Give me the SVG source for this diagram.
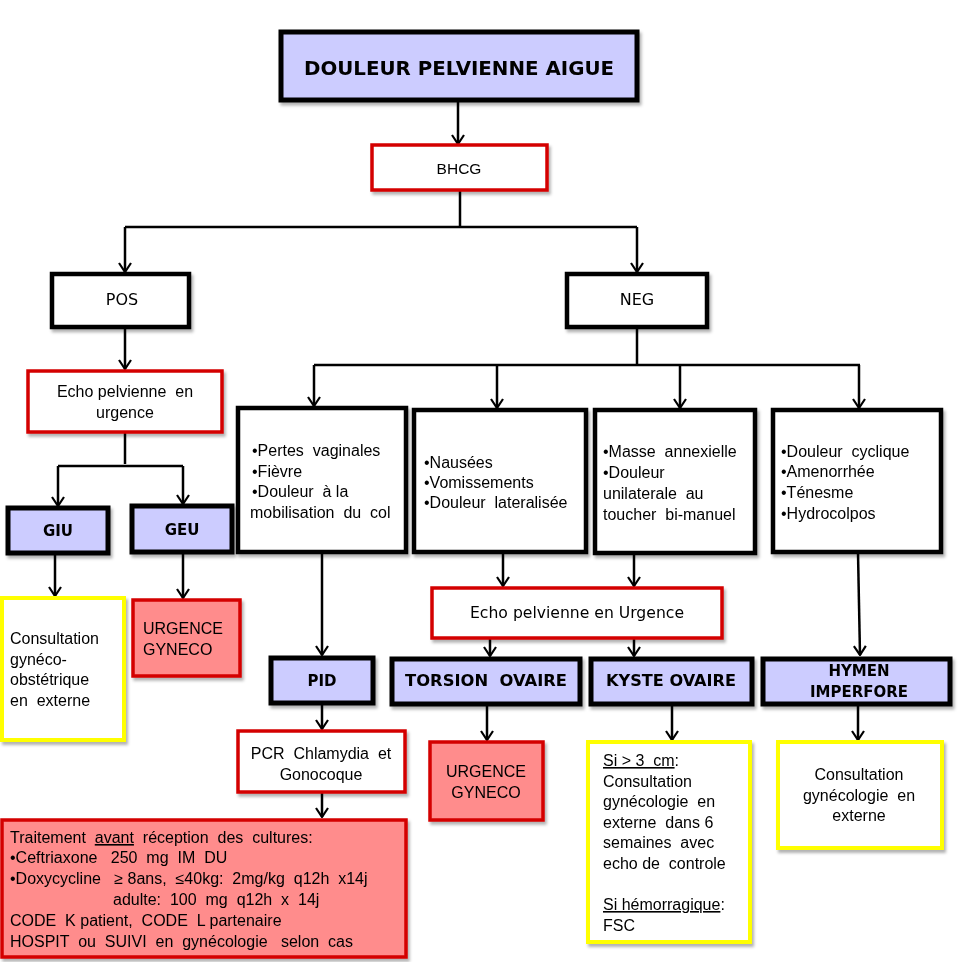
<svg xmlns="http://www.w3.org/2000/svg" width="960" height="962" viewBox="0 0 960 962">
<defs>
  <filter id="sh" x="-10%" y="-10%" width="130%" height="140%">
    <feDropShadow dx="2" dy="3" stdDeviation="1.5" flood-color="#000" flood-opacity="0.3"/>
  </filter>
  <marker id="ar" viewBox="-1 -7 11 14" refX="9" refY="0" markerWidth="11" markerHeight="14" markerUnits="userSpaceOnUse" orient="auto">
    <path d="M0,-6 L9,0 L0,6" fill="none" stroke="#000" stroke-width="2.2"/>
  </marker>
  <style>
    .blk{fill:#fff;stroke:#000;stroke-width:4.5}
    .pur{fill:#ccccff;stroke:#000;stroke-width:5}
    .red{fill:#fff;stroke:#d40000;stroke-width:3.5}
    .sal{fill:#ff8c8c;stroke:#d40000;stroke-width:3.5}
    .yel{fill:#fff;stroke:#ffff00;stroke-width:4}
    .t{font-family:"Liberation Sans",Arial,sans-serif;font-size:16px;fill:#000}
    .c{font-family:"DejaVu Sans",sans-serif;font-size:16px;fill:#000}
    .cb{font-family:"DejaVu Sans",sans-serif;font-size:15px;font-weight:bold;fill:#000}
    .m{text-anchor:middle}
    .ln{fill:none;stroke:#000;stroke-width:2.5}
    .u{text-decoration:underline}
  </style>
</defs>
<rect width="960" height="962" fill="#fff"/>

<g id="connectors">
  <path class="ln" d="M458,100 V144" marker-end="url(#ar)"/>
  <path class="ln" d="M460,191 V227"/>
  <path class="ln" d="M125,227 H637"/>
  <path class="ln" d="M125,227 V272" marker-end="url(#ar)"/>
  <path class="ln" d="M637,227 V272" marker-end="url(#ar)"/>
  <path class="ln" d="M125,328 V369" marker-end="url(#ar)"/>
  <path class="ln" d="M125,433 V464"/>
  <path class="ln" d="M58,466 H183"/>
  <path class="ln" d="M58,466 V506" marker-end="url(#ar)"/>
  <path class="ln" d="M183,466 V504" marker-end="url(#ar)"/>
  <path class="ln" d="M55,554 V596" marker-end="url(#ar)"/>
  <path class="ln" d="M183,553 V598" marker-end="url(#ar)"/>
  <path class="ln" d="M637,328 V364"/>
  <path class="ln" d="M314,365 H860"/>
  <path class="ln" d="M314,365 V406" marker-end="url(#ar)"/>
  <path class="ln" d="M497,365 V408" marker-end="url(#ar)"/>
  <path class="ln" d="M680,365 V408" marker-end="url(#ar)"/>
  <path class="ln" d="M859,365 V408" marker-end="url(#ar)"/>
  <path class="ln" d="M322,553 V655" marker-end="url(#ar)"/>
  <path class="ln" d="M503,553 V586" marker-end="url(#ar)"/>
  <path class="ln" d="M634,554 V586" marker-end="url(#ar)"/>
  <path class="ln" d="M858,553 L860,655" marker-end="url(#ar)"/>
  <path class="ln" d="M490,639 V656" marker-end="url(#ar)"/>
  <path class="ln" d="M634,639 V656" marker-end="url(#ar)"/>
  <path class="ln" d="M322,704 V729" marker-end="url(#ar)"/>
  <path class="ln" d="M322,793 V817" marker-end="url(#ar)"/>
  <path class="ln" d="M487,705 V740" marker-end="url(#ar)"/>
  <path class="ln" d="M672,705 V740" marker-end="url(#ar)"/>
  <path class="ln" d="M858,705 V740" marker-end="url(#ar)"/>
</g>

<g id="title" filter="url(#sh)">
  <rect class="pur" x="281" y="32" width="356" height="68"/>
  <text class="cb m" x="459" y="75" textLength="310" lengthAdjust="spacingAndGlyphs" style="font-size:20px">DOULEUR PELVIENNE AIGUE</text>
</g>

<g id="bhcg" filter="url(#sh)">
  <rect class="red" x="372" y="145" width="175" height="45"/>
  <text class="t m" x="459" y="174" style="font-size:15.5px">BHCG</text>
</g>

<g id="pos" filter="url(#sh)">
  <rect class="blk" x="52" y="274" width="137" height="53"/>
  <text class="c m" x="122" y="305">POS</text>
</g>

<g id="neg" filter="url(#sh)">
  <rect class="blk" x="567" y="274" width="140" height="53"/>
  <text class="c m" x="637" y="305">NEG</text>
</g>

<g id="echo1" filter="url(#sh)">
  <rect class="red" x="28" y="371" width="194" height="61"/>
  <text class="t m" x="125" y="397" xml:space="preserve">Echo pelvienne  en</text>
  <text class="t m" x="125" y="418">urgence</text>
</g>

<g id="giu" filter="url(#sh)">
  <rect class="pur" x="8" y="508" width="100" height="45"/>
  <text class="cb m" x="58" y="536">GIU</text>
</g>

<g id="geu" filter="url(#sh)">
  <rect class="pur" x="132" y="506" width="100" height="46"/>
  <text class="cb m" x="182" y="535">GEU</text>
</g>

<g id="consult1" filter="url(#sh)">
  <rect class="yel" x="2" y="598" width="122" height="142"/>
  <text class="t" x="10" y="644">Consultation</text>
  <text class="t" x="10" y="665">gynéco-</text>
  <text class="t" x="10" y="685">obstétrique</text>
  <text class="t" x="10" y="706" xml:space="preserve">en  externe</text>
</g>

<g id="urgence1" filter="url(#sh)">
  <rect class="sal" x="133" y="600" width="107" height="76"/>
  <text class="t" x="143" y="634">URGENCE</text>
  <text class="t" x="143" y="655">GYNECO</text>
</g>

<g id="sym1" filter="url(#sh)">
  <rect class="blk" x="238" y="408" width="168" height="144"/>
  <text class="t" x="252" y="456" xml:space="preserve">•Pertes  vaginales</text>
  <text class="t" x="252" y="477">•Fièvre</text>
  <text class="t" x="252" y="497" xml:space="preserve">•Douleur  à la</text>
  <text class="t" x="250" y="518" xml:space="preserve">mobilisation  du  col</text>
</g>

<g id="sym2" filter="url(#sh)">
  <rect class="blk" x="414" y="410" width="172" height="142"/>
  <text class="t" x="424" y="468">•Nausées</text>
  <text class="t" x="424" y="488">•Vomissements</text>
  <text class="t" x="424" y="508" xml:space="preserve">•Douleur  lateralisée</text>
</g>

<g id="sym3" filter="url(#sh)">
  <rect class="blk" x="595" y="410" width="160" height="143"/>
  <text class="t" x="603" y="457" xml:space="preserve">•Masse  annexielle</text>
  <text class="t" x="603" y="478">•Douleur</text>
  <text class="t" x="603" y="499" xml:space="preserve">unilaterale  au</text>
  <text class="t" x="603" y="520" xml:space="preserve">toucher  bi-manuel</text>
</g>

<g id="sym4" filter="url(#sh)">
  <rect class="blk" x="773" y="410" width="168" height="142"/>
  <text class="t" x="781" y="457" xml:space="preserve">•Douleur  cyclique</text>
  <text class="t" x="781" y="477">•Amenorrhée</text>
  <text class="t" x="781" y="498">•Ténesme</text>
  <text class="t" x="781" y="519">•Hydrocolpos</text>
</g>

<g id="echo2" filter="url(#sh)">
  <rect class="red" x="432" y="588" width="290" height="50"/>
  <text class="c m" x="577" y="618" textLength="214" lengthAdjust="spacingAndGlyphs">Echo pelvienne en Urgence</text>
</g>

<g id="pid" filter="url(#sh)">
  <rect class="pur" x="271" y="658" width="102" height="45"/>
  <text class="cb m" x="322" y="686">PID</text>
</g>

<g id="torsion" filter="url(#sh)">
  <rect class="pur" x="392" y="659" width="188" height="45"/>
  <text class="cb m" x="486" y="686" textLength="162" lengthAdjust="spacingAndGlyphs" xml:space="preserve">TORSION  OVAIRE</text>
</g>

<g id="kyste" filter="url(#sh)">
  <rect class="pur" x="591" y="659" width="161" height="45"/>
  <text class="cb m" x="671" y="686" textLength="130" lengthAdjust="spacingAndGlyphs">KYSTE OVAIRE</text>
</g>

<g id="hymen" filter="url(#sh)">
  <rect class="pur" x="763" y="659" width="187" height="45"/>
  <text class="cb m" x="859" y="676">HYMEN</text>
  <text class="cb m" x="859" y="697">IMPERFORE</text>
</g>

<g id="pcr" filter="url(#sh)">
  <rect class="red" x="238" y="731" width="167" height="61"/>
  <text class="t m" x="321" y="759" xml:space="preserve">PCR  Chlamydia  et</text>
  <text class="t m" x="321" y="780">Gonocoque</text>
</g>

<g id="urgence2" filter="url(#sh)">
  <rect class="sal" x="430" y="742" width="113" height="78"/>
  <text class="t m" x="486" y="777">URGENCE</text>
  <text class="t m" x="486" y="798">GYNECO</text>
</g>

<g id="kyste-suivi" filter="url(#sh)">
  <rect class="yel" x="588" y="742" width="162" height="200"/>
  <text class="t" x="603" y="766" xml:space="preserve"><tspan class="u">Si &gt; 3  cm</tspan>:</text>
  <text class="t" x="603" y="787">Consultation</text>
  <text class="t" x="603" y="807" xml:space="preserve">gynécologie  en</text>
  <text class="t" x="603" y="828" xml:space="preserve">externe  dans 6</text>
  <text class="t" x="603" y="848" xml:space="preserve">semaines  avec</text>
  <text class="t" x="603" y="869" xml:space="preserve">echo de  controle</text>
  <text class="t" x="603" y="910"><tspan class="u">Si hémorragique</tspan>:</text>
  <text class="t" x="603" y="931">FSC</text>
</g>

<g id="hymen-suivi" filter="url(#sh)">
  <rect class="yel" x="778" y="742" width="164" height="106"/>
  <text class="t m" x="859" y="780">Consultation</text>
  <text class="t m" x="859" y="801" xml:space="preserve">gynécologie  en</text>
  <text class="t m" x="859" y="821">externe</text>
</g>

<g id="traitement" filter="url(#sh)">
  <rect class="sal" x="2" y="820" width="404" height="137"/>
  <text class="t" x="10" y="843" xml:space="preserve">Traitement  <tspan class="u">avant</tspan>  réception  des  cultures:</text>
  <text class="t" x="10" y="863" xml:space="preserve">•Ceftriaxone   250  mg  IM  DU</text>
  <text class="t" x="10" y="884" xml:space="preserve">•Doxycycline   ≥ 8ans,  ≤40kg:  2mg/kg  q12h  x14j</text>
  <text class="t" x="113" y="905" xml:space="preserve">adulte:  100  mg  q12h  x  14j</text>
  <text class="t" x="10" y="926" xml:space="preserve">CODE  K patient,  CODE  L partenaire</text>
  <text class="t" x="10" y="947" xml:space="preserve">HOSPIT  ou  SUIVI  en  gynécologie   selon  cas</text>
</g>
</svg>
